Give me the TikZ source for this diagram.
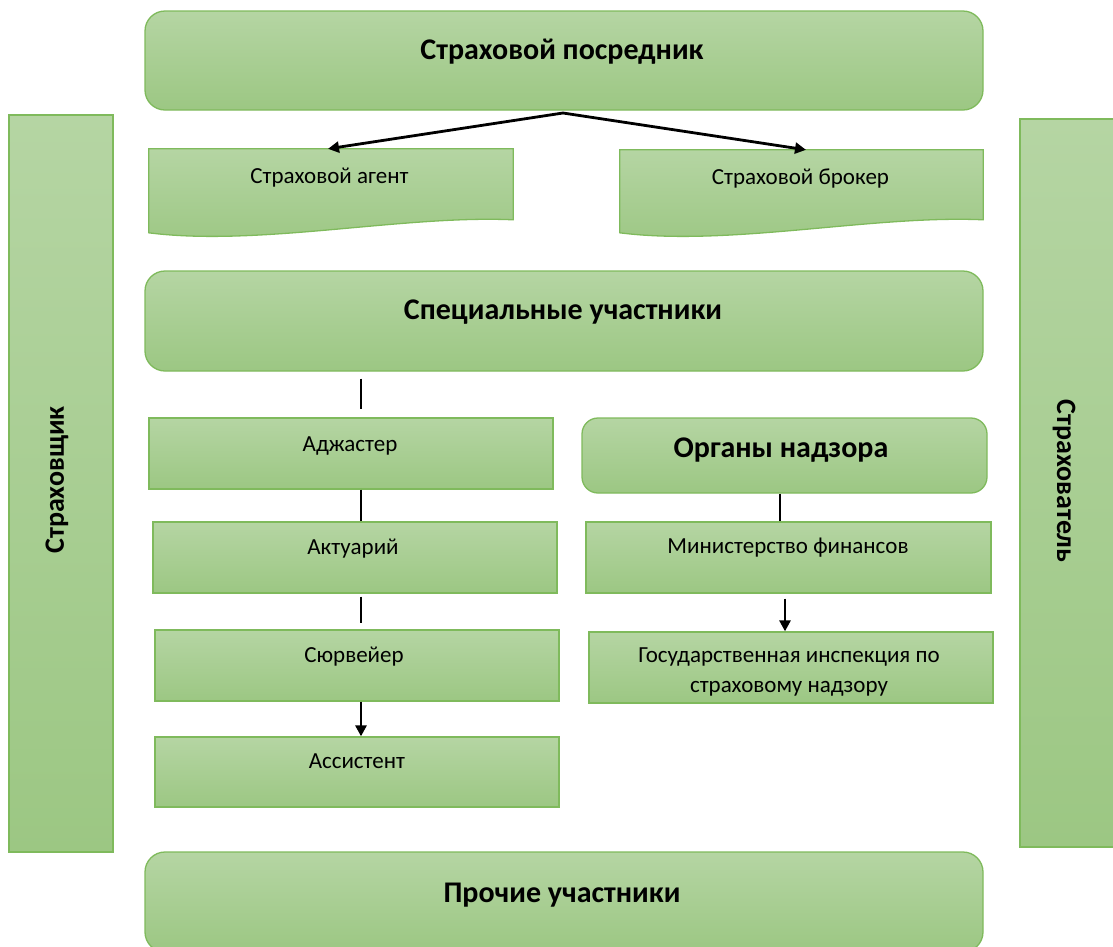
\documentclass[tikz,border=0pt]{standalone}
\usepackage{fontspec}
\setmainfont{Carlito}
\usetikzlibrary{calc,arrows.meta}
\definecolor{gtop}{HTML}{B5D5A3}
\definecolor{gbot}{HTML}{9CC783}
\definecolor{gline}{HTML}{7FBA5C}
\tikzset{
  x=1pt,y=-1pt,
  gfill/.style={top color=gtop,bottom color=gbot,draw=gline,line width=1.3pt},
  rbox/.style={gfill,rounded corners=20pt,inner sep=0pt},
  sbox/.style={gfill,inner sep=0pt},
  invis/.style={inner sep=0pt,draw=none},
  bigtxt/.style={inner sep=0pt,anchor=base,font=\bfseries\fontsize{30}{36}\selectfont},
  smalltxt/.style={inner sep=0pt,anchor=base,font=\fontsize{23}{30}\selectfont,align=center},
  vtxt/.style={inner sep=0pt,font=\bfseries\fontsize{28}{32}\selectfont},
  conn/.style={line width=2.8pt,black},
  arr/.style={conn,-{Triangle[length=11pt,width=11pt]}},
}
\begin{document}
\begin{tikzpicture}
\useasboundingbox (0,0) rectangle (1113,946);
% side boxes
\node[sbox,minimum width=104pt,minimum height=737pt] (insurer) at (61,483.5) {};
\node[vtxt,rotate=90] (insurerT) at (57,480) {Страховщик};
\node[sbox,minimum width=98pt,minimum height=728pt] (holder) at (1069,483) {};
\node[vtxt,rotate=-90] (holderT) at (1064,481) {Страхователь};
% top
\node[rbox,minimum width=838pt,minimum height=99pt] (interm) at (564,60.5) {};
\node[bigtxt] (intermT) at (562,59) {Страховой посредник};
% documents
\node[invis,minimum width=364pt,minimum height=86pt] (agent) at (331,192) {};
\path[gfill] (agent.north west) -- (agent.north east) -- ($(agent.north east)+(0,71)$)
  .. controls ($(agent.north east)+(-110,66)$) and ($(agent.north west)+(110,98)$) .. ($(agent.north west)+(0,84)$) -- cycle;
\node[smalltxt] (agentT) at (329.5,183) {Страховой агент};
\node[invis,minimum width=363pt,minimum height=86pt] (broker) at (801.5,193) {};
\path[gfill] (broker.north west) -- (broker.north east) -- ($(broker.north east)+(0,70)$)
  .. controls ($(broker.north east)+(-110,65)$) and ($(broker.north west)+(110,97)$) .. ($(broker.north west)+(0,83)$) -- cycle;
\node[smalltxt] (brokerT) at (800.5,184) {Страховой брокер};
\coordinate (split) at (563,113);
\draw[arr] (split) -- (agent.north -| 328,0);
\draw[arr] (split) -- (broker.north -| 806,0);
% special
\node[rbox,minimum width=838pt,minimum height=100pt] (special) at (564,321) {};
\node[bigtxt] (specialT) at (563,319) {Специальные участники};
\node[sbox,minimum width=404pt,minimum height=71pt] (adj) at (351,453.5) {};
\node[smalltxt] (adjT) at (350,451) {Аджастер};
\node[sbox,minimum width=404pt,minimum height=71pt] (act) at (355,557.5) {};
\node[smalltxt] (actT) at (353,554) {Актуарий};
\node[sbox,minimum width=404pt,minimum height=71pt] (surv) at (357,665.5) {};
\node[smalltxt] (survT) at (354,662) {Сюрвейер};
\node[sbox,minimum width=404pt,minimum height=70pt] (assist) at (357,772) {};
\node[smalltxt] (assistT) at (357,768) {Ассистент};
\draw[conn,shorten <=7pt,shorten >=8pt] (special.south -| 361,0) -- (adj.north -| 361,0);
\draw[conn] (adj.south -| 361,0) -- (act.north -| 361,0);
\draw[conn,shorten <=3pt,shorten >=6pt] (act.south -| 361,0) -- (surv.north -| 361,0);
\draw[arr] (surv.south -| 361,0) -- (assist.north -| 361,0);
% supervision
\node[rbox,minimum width=405pt,minimum height=75pt,rounded corners=16pt] (super) at (784.5,455.5) {};
\node[bigtxt] (superT) at (781,457) {Органы надзора};
\node[sbox,minimum width=405pt,minimum height=71pt] (minfin) at (788.5,557.5) {};
\node[smalltxt] (minfinT) at (788,553) {Министерство финансов};
\node[sbox,minimum width=404pt,minimum height=71pt] (inspect) at (791,667.5) {};
\node[smalltxt] (inspectT) at (789,692) {Государственная инспекция по\\страховому надзору};
\draw[conn] (super.south -| 780,0) -- (minfin.north -| 780,0);
\draw[arr,shorten <=5pt] (minfin.south -| 785,0) -- (inspect.north -| 785,0);
% bottom
\node[rbox,minimum width=838pt,minimum height=100pt] (other) at (564,902) {};
\node[bigtxt] (otherT) at (562,902) {Прочие участники};
\end{tikzpicture}
\end{document}
